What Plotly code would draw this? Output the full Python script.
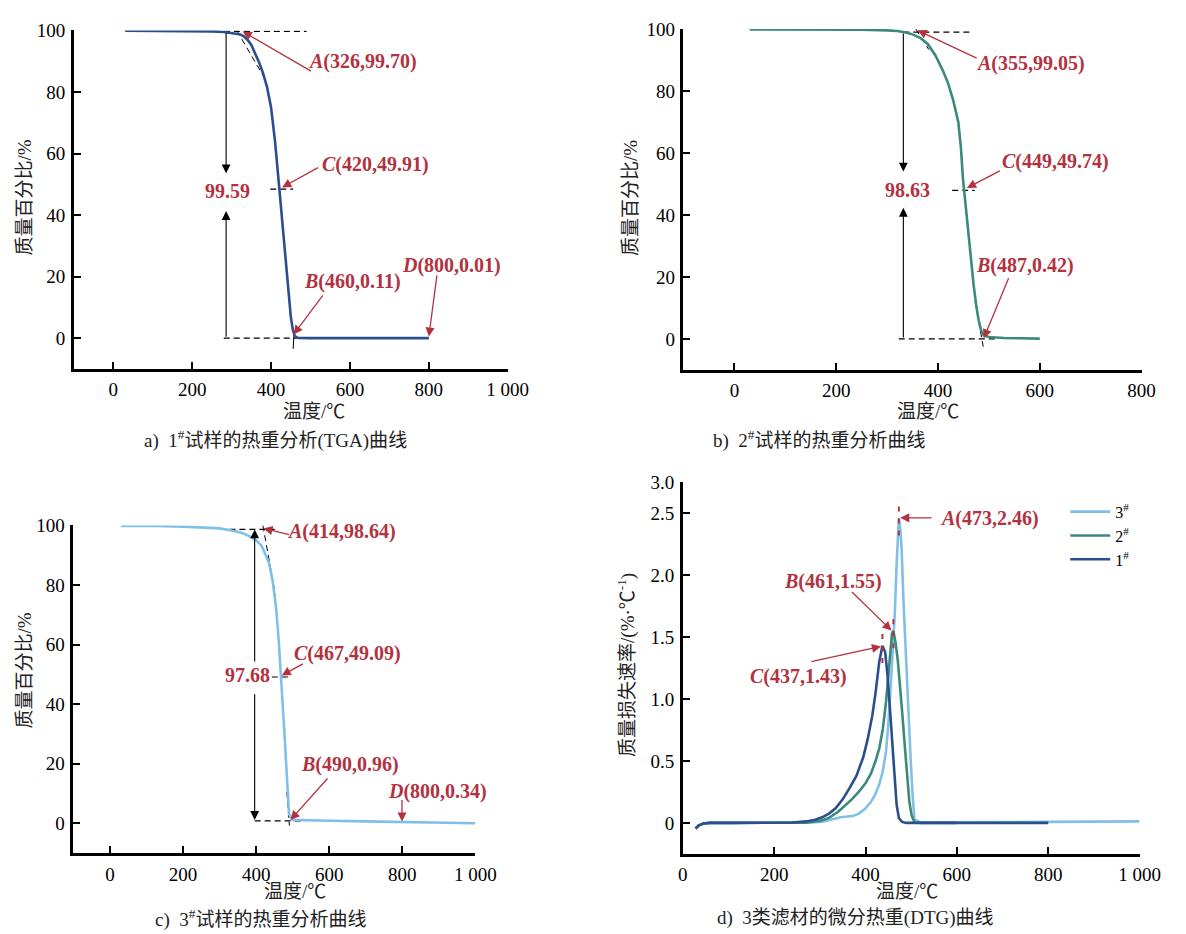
import plotly.graph_objects as go

W, H = 1186, 934
FONT = "Liberation Serif, Noto Sans CJK SC, serif"
RED = "#b3323f"
C1 = "#2b4f8e"
C2 = "#3c8a7c"
C3 = "#80c0e8"

# ---------------- data ----------------
# panel a: 1# TGA
t1 = [30, 100, 200, 250, 280, 300, 320, 330, 340, 350, 360, 370, 380, 390, 400, 410, 420, 430, 440, 450, 455, 460, 465, 470, 500, 600, 700, 800]
w1 = [99.9, 99.9, 99.8, 99.7, 99.5, 99.2, 98.8, 98.2, 97.0, 95.3, 92.5, 89.5, 86.0, 81.5, 75.0, 64.0, 49.91, 35.0, 20.0, 7.0, 2.8, 0.7, 0.25, 0.06, 0.02, 0.01, 0.01, 0.01]
# panel b: 2# TGA
t2 = [30, 100, 200, 250, 300, 320, 335, 350, 365, 380, 395, 410, 420, 430, 440, 445, 449, 455, 460, 465, 470, 475, 480, 485, 490, 500, 515, 530, 560, 600]
w2 = [99.9, 99.9, 99.9, 99.8, 99.6, 99.4, 99.0, 98.3, 97.2, 95.2, 91.5, 86.5, 82.5, 77.0, 70.0, 62.0, 52.0, 42.0, 33.5, 25.0, 17.5, 11.0, 6.0, 2.6, 1.1, 0.6, 0.4, 0.3, 0.2, 0.1]
# panel c: 3# TGA
t3 = [30, 100, 200, 250, 300, 330, 360, 380, 400, 415, 425, 435, 445, 455, 462, 467, 472, 478, 484, 490, 500, 520, 600, 700, 800, 900, 1000]
w3 = [99.8, 99.9, 99.6, 99.4, 99.0, 98.4, 97.5, 96.5, 95.0, 93.2, 90.5, 87.5, 81.5, 72.0, 61.0, 49.09, 41.0, 29.0, 15.0, 3.0, 1.1, 1.0, 0.8, 0.6, 0.4, 0.2, 0.0]

# panel d: DTG
d1_t = [28, 35, 45, 60, 100, 200, 240, 270, 290, 305, 320, 335, 350, 365, 380, 395, 405, 415, 422, 430, 437, 443, 448, 453, 458, 463, 468, 473, 480, 490, 550, 650, 800]
d1_v = [-0.045, -0.02, -0.005, 0, 0, 0, 0.003, 0.012, 0.025, 0.045, 0.075, 0.12, 0.19, 0.28, 0.38, 0.53, 0.68, 0.87, 1.05, 1.30, 1.43, 1.38, 1.20, 0.95, 0.65, 0.38, 0.15, 0.04, 0.008, 0, 0, 0, 0]
d2_t = [28, 35, 45, 60, 100, 200, 270, 300, 320, 340, 355, 370, 385, 400, 412, 422, 430, 438, 445, 450, 455, 458, 461, 466, 471, 476, 481, 486, 491, 496, 501, 507, 520, 600]
d2_v = [-0.045, -0.02, -0.005, 0, 0, 0, 0.002, 0.015, 0.04, 0.09, 0.14, 0.19, 0.25, 0.32, 0.40, 0.50, 0.60, 0.76, 0.98, 1.20, 1.45, 1.53, 1.55, 1.45, 1.30, 1.10, 0.86, 0.62, 0.36, 0.17, 0.06, 0.005, 0, 0]
d3_t = [28, 35, 45, 60, 100, 200, 280, 305, 320, 335, 345, 360, 372, 385, 398, 410, 420, 430, 438, 445, 450, 455, 460, 464, 468, 471, 473, 476, 479, 483, 487, 491, 495, 499, 503, 507, 520, 600, 800, 1000]
d3_v = [-0.045, -0.02, -0.005, 0, 0, 0, 0.003, 0.01, 0.02, 0.035, 0.045, 0.048, 0.055, 0.075, 0.11, 0.16, 0.22, 0.31, 0.42, 0.58, 0.80, 1.10, 1.38, 1.68, 2.08, 2.35, 2.46, 2.38, 2.22, 1.80, 1.45, 1.15, 0.80, 0.50, 0.23, 0.03, 0.005, 0.005, 0.008, 0.012]

# characteristic points
pts_a = {"A": (326, 99.70), "B": (460, 0.11), "C": (420, 49.91), "D": (800, 0.01)}
pts_b = {"A": (355, 99.05), "B": (487, 0.42), "C": (449, 49.74)}
pts_c = {"A": (414, 98.64), "B": (490, 0.96), "C": (467, 49.09), "D": (800, 0.34)}
pts_d = {"A": (473, 2.46), "B": (461, 1.55), "C": (437, 1.43)}
loss = {"a": "99.59", "b": "98.63", "c": "97.68"}

x_ticks_1000 = [0, 200, 400, 600, 800, 1000]
x_text_1000 = ["0", "200", "400", "600", "800", "1 000"]
x_ticks_800 = [0, 200, 400, 600, 800]
x_text_800 = ["0", "200", "400", "600", "800"]
y_ticks_tga = [0, 20, 40, 60, 80, 100]
y_ticks_dtg = [0, 0.5, 1.0, 1.5, 2.0, 2.5, 2.75]
y_text_dtg = ["0", "0.5", "1.0", "1.5", "2.0", "2.5", "3.0"]

# ---------------- layout geometry (pixels) ----------------
dom = {
    1: ([70.4, 514.0], [20.7, 362.8]),
    2: ([693.7, 1162.0], [19.3, 363.8]),
    3: ([69.9, 481.0], [521.0, 852.1]),
    4: ([693.0, 1160.0], [477.4, 853.0]),
}

def xd(p):
    return [p[0] / W, p[1] / W]

def yd(p):
    return [1 - p[1] / H, 1 - p[0] / H]

fig = go.Figure()

def add_line(i, xs, ys, color, width=2.6, dash=None, name=None, legend=False):
    ax = "" if i == 1 else str(i)
    fig.add_trace(go.Scatter(
        x=xs, y=ys, mode="lines", name=name, showlegend=legend,
        line=dict(color=color, width=width, dash=dash),
        xaxis="x" + ax, yaxis="y" + ax, hoverinfo="skip"))

GD = "6px,4px"

# ---- panel a ----
A, B, C, D = pts_a["A"], pts_a["B"], pts_a["C"], pts_a["D"]
add_line(1, [255, 490], [A[1], A[1]], "black", 1.2, GD)
add_line(1, [280, 520], [0, 0], "black", 1.2, GD)
add_line(1, [313, 385], [100, 84.2], "black", 1.0, GD)
add_line(1, [398, 456], [C[1] - 1.5, C[1] - 1.5], "black", 1.2, GD)
add_line(1, [458, 456], [1.5, -3.5], "black", 1.0)
add_line(1, t1, w1, C1)

# ---- panel b ----
A, B, C = pts_b["A"], pts_b["B"], pts_b["C"]
add_line(2, [332, 464], [A[1], A[1]], "black", 1.2, GD)
add_line(2, [323, 519], [0, 0], "black", 1.2, GD)
add_line(2, [356.6, 382], [100, 93.4], "black", 1.0, GD)
add_line(2, [428, 472], [C[1] - 1.8, C[1] - 1.8], "black", 1.2, GD)
add_line(2, [473, 489], [12, -2.5], "black", 1.0, GD)
add_line(2, t2, w2, C2)

# ---- panel c ----
A, B, C, D = pts_c["A"], pts_c["B"], pts_c["C"], pts_c["D"]
add_line(3, [327, 451], [A[1], A[1]], "black", 1.2, GD)
add_line(3, [396, 522], [B[1] - 0.2, B[1] - 0.2], "black", 1.2, GD)
add_line(3, [418.5, 453], [100, 76.5], "black", 1.0, GD)
add_line(3, [484, 491], [10.5, -0.8], "black", 1.0, GD)
add_line(3, [443, 491], [C[1], C[1]], "black", 1.2, GD)
add_line(3, t3, w3, C3)

# ---- panel d ----
add_line(4, d3_t, d3_v, C3, 2.6, name="3<sup>#</sup>", legend=True)
add_line(4, d2_t, d2_v, C2, 2.6, name="2<sup>#</sup>", legend=True)
add_line(4, d1_t, d1_v, C1, 2.6, name="1<sup>#</sup>", legend=True)
for k, (px, py) in pts_d.items():
    add_line(4, [px, px], [py - 0.14, py + 0.12], RED, 2.0, "5px,7px")

# ---------------- axes ----------------
common = dict(showline=True, linecolor="black", linewidth=2.5, ticks="inside",
              ticklen=7, tickwidth=2, tickcolor="black", showgrid=False,
              zeroline=False, tickfont=dict(family=FONT, size=19, color="black"),
              ticklabelstandoff=2, mirror=False)

layout_axes = {}
cfg = {
    1: ([-100, 1000], x_ticks_1000, x_text_1000, [-10, 100], y_ticks_tga, [str(v) for v in y_ticks_tga]),
    2: ([-100, 800], x_ticks_800, x_text_800, [-10, 100], y_ticks_tga, [str(v) for v in y_ticks_tga]),
    3: ([-100, 1000], x_ticks_1000, x_text_1000, [-10, 100], y_ticks_tga, [str(v) for v in y_ticks_tga]),
    4: ([0, 1000], x_ticks_1000, x_text_1000, [-0.25, 2.75], y_ticks_dtg, y_text_dtg),
}
for i, (xr, xt, xtt, yr, yt, ytt) in cfg.items():
    s = "" if i == 1 else str(i)
    layout_axes["xaxis" + s] = dict(common, range=xr, tickvals=xt, ticktext=xtt,
                                   domain=xd(dom[i][0]), anchor="y" + s)
    layout_axes["yaxis" + s] = dict(common, range=yr, tickvals=yt, ticktext=ytt,
                                   domain=yd(dom[i][1]), anchor="x" + s)

fig.update_layout(**layout_axes)

# ---------------- annotations ----------------
ann = []

def arrow(i, head, tail, color=RED, width=1.3, size=1.4):
    s = "" if i == 1 else str(i)
    ann.append(dict(xref="x" + s, yref="y" + s, axref="x" + s, ayref="y" + s,
                    x=head[0], y=head[1], ax=tail[0], ay=tail[1], text="",
                    showarrow=True, arrowhead=2, arrowsize=size, arrowwidth=width,
                    arrowcolor=color))

def label(i, x, y, text, color=RED, size=20, bold=True):
    s = "" if i == 1 else str(i)
    t = "<b>" + text + "</b>" if bold else text
    ann.append(dict(xref="x" + s, yref="y" + s, x=x, y=y, text=t, showarrow=False,
                    font=dict(family=FONT, size=size, color=color)))

def ptxt(k, p):
    return "<i>%s</i>(%d,%.2f)" % (k, p[0], p[1])

# panel a
arrow(1, (328, pts_a["A"][1]), (505, 86.5))
label(1, 633, 89.9, ptxt("A", pts_a["A"]))
arrow(1, (428, 49.0), (523, 55.7))
label(1, 665, 56.5, ptxt("C", pts_a["C"]))
arrow(1, (457, 1.2), (534, 14.4))
label(1, 606, 18.5, ptxt("B", pts_a["B"]))
arrow(1, (800, 0.5), (821, 20.9))
label(1, 858, 23.7, ptxt("D", pts_a["D"]))
arrow(1, (286, 53.6), (286, pts_a["A"][1]), "black", 1.1, 1.6)
arrow(1, (286, 41.3), (286, 0), "black", 1.1, 1.6)
label(1, 289, 47.8, loss["a"])

# panel b
arrow(2, (360, 99.6), (479, 90.4))
label(2, 582, 88.9, ptxt("A", pts_b["A"]))
arrow(2, (457, 48.7), (524.5, 54.5))
label(2, 630, 57.4, ptxt("C", pts_b["C"]))
arrow(2, (490, 0.2), (540, 20.1))
label(2, 571, 23.6, ptxt("B", pts_b["B"]))
arrow(2, (332, 54.0), (332, pts_b["A"][1]), "black", 1.1, 1.6)
arrow(2, (332, 42.3), (332, 0), "black", 1.1, 1.6)
label(2, 341, 48.1, loss["b"])

# panel c
arrow(3, (420, 99.0), (494, 96.8))
label(3, 634, 98.1, ptxt("A", pts_c["A"]))
arrow(3, (470, 49.6), (532, 53.8))
label(3, 651, 56.9, ptxt("C", pts_c["C"]))
arrow(3, (494, 1.1), (599, 15.5))
label(3, 658, 19.7, ptxt("B", pts_c["B"]))
arrow(3, (799, 0.55), (799, 8.3))
label(3, 895, 10.5, ptxt("D", pts_c["D"]))
arrow(3, (396, pts_c["A"][1]), (396, 53.8), "black", 1.1, 1.6)
arrow(3, (396, 1.1), (396, 43.8), "black", 1.1, 1.6)
label(3, 377, 49.7, loss["c"])

# panel d
arrow(4, (476, 2.463), (548, 2.463))
label(4, 671, 2.455, ptxt("A", pts_d["A"]))
arrow(4, (457, 1.553), (367, 1.876))
label(4, 329, 1.945, ptxt("B", pts_d["B"]))
arrow(4, (434, 1.425), (278, 1.30))
label(4, 254, 1.181, ptxt("C", pts_d["C"]))

# axis titles and captions (paper coords)
TXT = "#222222"

def ptext(xp, yp, text, angle=0, size=19):
    ann.append(dict(xref="paper", yref="paper", x=xp / W, y=1 - yp / H, text=text,
                    showarrow=False, textangle=angle, xanchor="center", yanchor="middle",
                    font=dict(family=FONT, size=size, color=TXT)))

ptext(316, 406, "温度/℃")
ptext(944, 406, "温度/℃")
ptext(296, 891, "温度/℃")
ptext(922, 891, "温度/℃")
ptext(20, 190, "质量百分比/%", -90)
ptext(640, 190, "质量百分比/%", -90)
ptext(20, 668, "质量百分比/%", -90)
ptext(636, 662, "质量损失速率/(%·℃<sup>-1</sup>)", -90)
ptext(277, 434, "a)  1<sup>#</sup>试样的热重分析(TGA)曲线")
ptext(833, 434, "b)  2<sup>#</sup>试样的热重分析曲线")
ptext(261, 918, "c)  3<sup>#</sup>试样的热重分析曲线")
ptext(870, 918, "d)  3类滤材的微分热重(DTG)曲线")

fig.update_layout(
    annotations=ann,
    width=W, height=H,
    margin=dict(l=0, r=0, t=0, b=0),
    paper_bgcolor="white", plot_bgcolor="white",
    showlegend=True,
    legend=dict(x=1084 / W, y=1 - 490 / H, xanchor="left", yanchor="top",
                bgcolor="rgba(0,0,0,0)", font=dict(family=FONT, size=16, color="black"),
                tracegroupgap=0, itemwidth=40),
)

fig.write_html("out.html")
